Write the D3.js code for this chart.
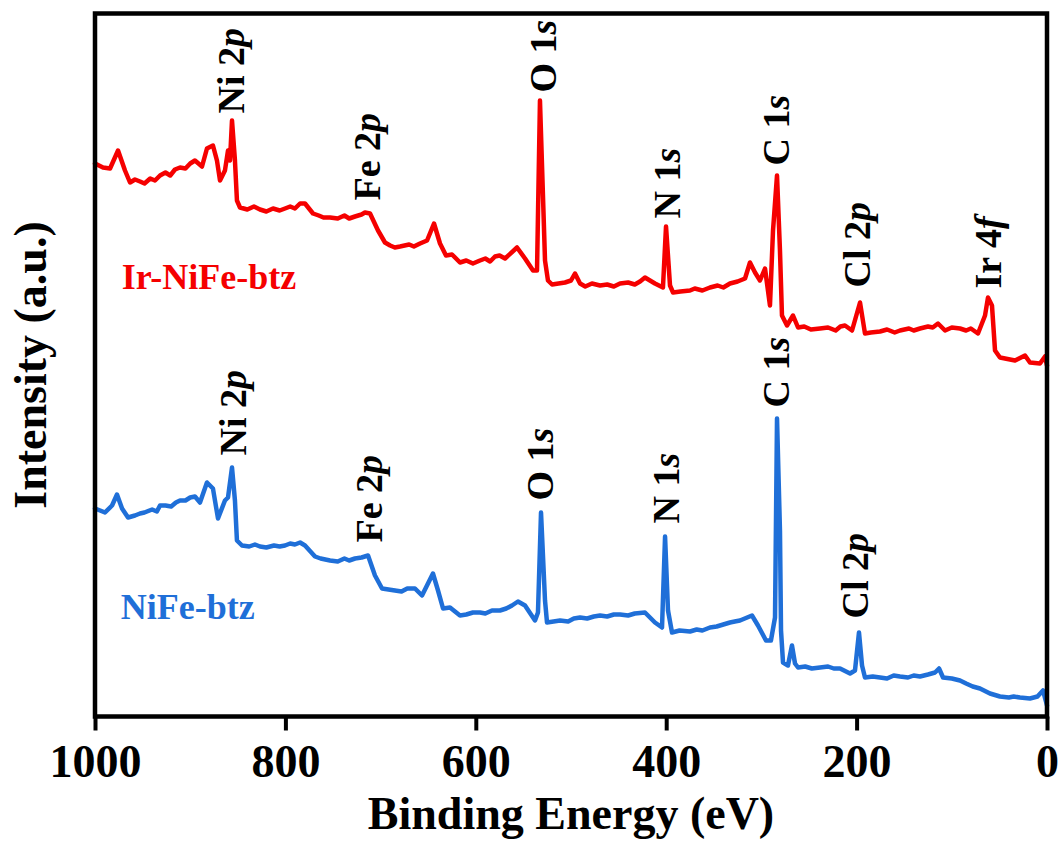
<!DOCTYPE html>
<html>
<head>
<meta charset="utf-8">
<script src="https://cdn.jsdelivr.net/npm/d3@7"></script>
<style>
  html, body { margin: 0; padding: 0; background: #fff; }
  svg { display: block; }
  text { font-family: "Liberation Serif", "Times New Roman", serif; font-weight: bold; }
</style>
</head>
<body>
<svg id="chart" width="1064" height="845"></svg>
<script>
// ---- data (binding energy in eV, intensity in a.u.) ----
const energyRed = [1000,991.6,984.2,975.8,968.5,963.2,958,952.7,948,942,937,931.7,926,921,916,910.7,905,900,895,887.6,882.4,876.1,871.9,868.7,863.5,860.3,858.2,856.1,853,850.9,847.7,840,833,826.7,820,813,806,800.4,795,790,784.6,779.4,771,765,760,753.1,745,738,733,726.9,720,716.4,711.1,702.7,695.4,690,685,679.6,670,665,658.6,651.2,643.9,637.6,631.3,625,616.6,610,603,595.6,590,585,579.8,575,569.3,556.7,548.3,539.9,535.7,532.6,527.3,524.2,519.9,506.3,500,495.8,490.5,485,478,469.5,462,455,448.5,440,433,427.5,422.3,411.8,403.4,400.2,396,392.8,385,375,370,362,354,346,340,333,325,317.2,312,306.7,301.5,296.2,291,287.8,283.6,280.5,278.4,273.1,266.8,261.5,255,248,238.4,230,222,217,212.2,204.8,196.4,191.2,185,175.4,168,160,154.4,145,140,133.4,125,120,114.5,107.1,100,91.4,85,80,72.5,65.1,62,57.8,54.6,49.4,33.6,23.1,17.9,7.4,2.1,0];
const intensityRed = [553,549,548,566,546,534,537,535,533,538,536,541,544,541,547,549,548,553,556,550,568,571,556,536,546,566,556,596,556,516,509,507,510,507,505,508,506,508,510,508,513,513,503,501,499,499,498,501,498,500,502,504,503,486,474,471,469,470,472,470,473,476,493,473,461,462,454,456,453,456,458,455,460,461,458,469,458,446,446,616,456,436,432,434,436,443,433,430,433,431,432,430,433,434,432,435,439,433,429,490,431,424,425,426,428,426,429,431,429,433,435,438,454,444,436,448,411,486,541,466,401,391,401,389,390,387,388,389,386,390,391,386,414,383,384,385,387,384,386,388,386,388,390,389,393,386,389,388,386,388,383,401,419,411,366,359,356,361,354,353,360,351];

const energyBlue = [1000,989.5,982.1,976.9,971.6,965.3,958,952.7,948,940,935,931.7,926,920,915,910.7,905,900,895,889.7,882.4,876.1,870.8,863.5,860.3,856.1,853,850.9,845.6,838,832,826.7,820,812,806,800.4,795,790,784.6,779.4,768.9,763,753.1,745,738,733,726.9,720,713.2,705.9,698.5,684.9,678,672,663.9,656.5,645,639.7,634.4,627.1,616.6,610,603,595.6,590,583,574.6,568,562,555.7,548.3,537.8,534.7,531.5,527.3,525.2,511.5,503,497,490.5,483,476,469.5,462,455,448.5,440,433,422.3,411.8,404.4,401.2,398.1,393.9,386,375,368,362,354,347,340,333,328,322.5,309.9,303.6,295.2,290,285.7,283.6,280.5,279.4,277.3,272.1,267.9,264.7,261.5,254,247,238.4,230,224,217.4,206.9,201.7,197.5,194.3,191.2,183,175.4,168,161,154.4,146,140,133.4,125,117.6,113.4,109.2,100,91.4,85,78,70.4,59.9,49.4,40,35,28.4,17.9,10,4.2,0];
const intensityBlue = [208,204,211,222,208,199,201,203,204,207,205,211,211,210,214,216,216,219,220,214,234,228,198,216,219,249,216,176,171,170,172,170,169,171,170,171,173,172,174,171,160,158,156,155,158,156,158,159,161,141,128,126,125,128,128,121,143,126,108,109,101,102,104,104,103,106,106,108,111,115,111,96,104,204,116,94,96,95,98,99,98,100,101,100,102,102,101,103,104,94,89,180,106,84,86,85,87,86,89,90,92,94,95,96,101,91,76,76,99,298,186,86,54,51,71,53,49,50,48,49,50,48,48,43,46,84,51,39,40,39,38,41,40,39,41,40,42,44,48,39,38,36,33,30,28,23,20,19,20,19,18,20,26,11];

const xTicks = [1000, 800, 600, 400, 200, 0];

const seriesNames = ["Ir-NiFe-btz", "NiFe-btz"];
const seriesColors = ["#f50000", "#1f6fd8"];
const seriesLabelEnergy = [972, 973];
const seriesLabelIntensity = [428, 98];

// peak annotations: [element, orbital number, orbital letter], energy, intensity at label start
const peakTextRed = [["Ni","2","p"],["Fe","2","p"],["O","1","s"],["N","1","s"],["C","1","s"],["Cl","2","p"],["Ir","4","f"]];
const peakEnergyRed = [857, 714, 529, 399, 285, 200, 62];
const peakIntensityRed = [603, 516, 624, 498, 551, 429, 428];

const peakTextBlue = [["Ni","2","p"],["Fe","2","p"],["O","1","s"],["N","1","s"],["C","1","s"],["Cl","2","p"]];
const peakEnergyBlue = [855, 712, 532.5, 400, 285, 202];
const peakIntensityBlue = [261, 174, 216, 193, 309, 98];

// ---- layout ----
const svg = d3.select("#chart");
const mLeft = 95, mRight = 1047, mTop = 13.5, mBottom = 716.5;

const x = d3.scaleLinear().domain([1000, 0]).range([mLeft, mRight]);
const y = d3.scaleLinear().domain([0, 703]).range([mBottom, mTop]);

const line = d3.line().x(d => x(d[0])).y(d => y(d[1]));

const seriesData = [
  d3.zip(energyRed, intensityRed),
  d3.zip(energyBlue, intensityBlue)
];

seriesData.forEach((data, i) => {
  svg.append("path")
    .datum(data)
    .attr("d", line)
    .attr("fill", "none")
    .attr("stroke", seriesColors[i])
    .attr("stroke-width", 4.5)
    .attr("stroke-linejoin", "round")
    .attr("stroke-linecap", "round");
});

// frame
svg.append("rect")
  .attr("x", mLeft).attr("y", mTop)
  .attr("width", mRight - mLeft).attr("height", mBottom - mTop)
  .attr("fill", "none").attr("stroke", "#000").attr("stroke-width", 4.5);

// x axis
const xAxis = d3.axisBottom(x).tickValues(xTicks).tickSize(14).tickPadding(12).tickFormat(d3.format("d"));
const gx = svg.append("g").attr("transform", `translate(0,${mBottom})`).call(xAxis);
gx.select(".domain").remove();
gx.selectAll(".tick line").attr("stroke", "#000").attr("stroke-width", 4);
gx.selectAll(".tick text")
  .attr("fill", "#000")
  .style("font-size", "46px")
  .style("font-family", "'Liberation Serif', serif")
  .style("font-weight", "bold")
  .attr("y", 60).attr("dy", null);

// axis titles
svg.append("text")
  .attr("x", (mLeft + mRight) / 2).attr("y", 829)
  .attr("text-anchor", "middle")
  .style("font-size", "46px")
  .text("Binding Energy (eV)");

svg.append("text")
  .attr("transform", `translate(46,${(mTop + mBottom) / 2}) rotate(-90)`)
  .attr("text-anchor", "middle")
  .style("font-size", "46px")
  .text("Intensity (a.u.)");

// series labels
seriesNames.forEach((name, i) => {
  svg.append("text")
    .attr("x", x(seriesLabelEnergy[i])).attr("y", y(seriesLabelIntensity[i]))
    .attr("fill", seriesColors[i])
    .style("font-size", "36px")
    .text(name);
});

// peak labels
function peakLabels(texts, energies, intensities) {
  texts.forEach((t, i) => {
    const txt = svg.append("text")
      .attr("transform", `translate(${x(energies[i])},${y(intensities[i])}) rotate(-90)`)
      .attr("dy", "0.34em")
      .attr("fill", "#000")
      .style("font-size", "38px");
    txt.append("tspan").text(t[0] + " " + t[1]);
    txt.append("tspan").style("font-style", "italic").text(t[2]);
  });
}
peakLabels(peakTextRed, peakEnergyRed, peakIntensityRed);
peakLabels(peakTextBlue, peakEnergyBlue, peakIntensityBlue);
</script>
</body>
</html>
